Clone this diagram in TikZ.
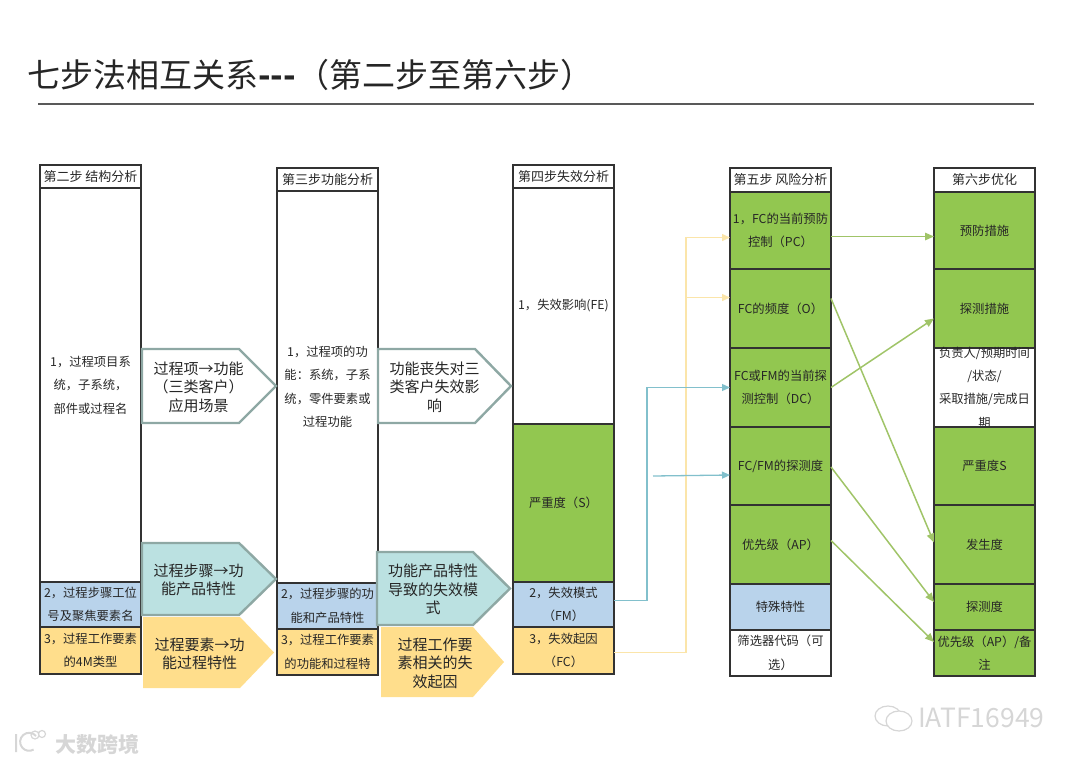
\documentclass[tikz,border=0pt]{standalone}
\usepackage{fontspec}
\setmainfont{Noto Sans CJK SC}
\usetikzlibrary{arrows.meta, positioning}
\definecolor{cGreen}{RGB}{146,199,80}
\definecolor{cBlue}{RGB}{185,211,235}
\definecolor{cYellow}{RGB}{255,222,140}
\definecolor{cTeal}{RGB}{187,225,225}
\definecolor{cEdge}{RGB}{142,168,164}
\definecolor{cLineGreen}{RGB}{160,196,104}
\definecolor{cLineTeal}{RGB}{130,192,204}
\definecolor{cLineYellow}{RGB}{251,229,170}
\definecolor{cBorder}{RGB}{50,50,50}
\definecolor{cMark}{RGB}{214,214,214}
\tikzset{
	cell/.style   ={rectangle, draw=cBorder, line width=1.3pt, minimum width=101pt, inner sep=0pt, outer sep=0pt, align=center, text=black!85, font=\fontsize{12.3}{23.4}\selectfont},
	head/.style   ={cell, minimum height=23pt, anchor=north west, font=\fontsize{13}{14}\selectfont},
	gcell/.style  ={cell, fill=cGreen},
	bcell/.style  ={cell, fill=cBlue},
	ycell/.style  ={cell, fill=cYellow},
	pentw/.style  ={draw=cEdge, line width=2.4pt, fill=white, line join=miter},
	pentt/.style  ={draw=cEdge, line width=2.4pt, fill=cTeal, line join=miter},
	penty/.style  ={draw=none, fill=cYellow},
	penttext/.style={align=center, inner sep=0pt, text=black!85, font=\fontsize{15}{18.4}\selectfont},
	lnkgreen/.style ={-{Triangle[length=9pt, width=7.5pt]}, draw=cLineGreen, line width=1.5pt},
	lnkteal/.style  ={-{Triangle[length=8pt, width=7pt]}, draw=cLineTeal, line width=1.3pt},
	lnkyellow/.style={-{Triangle[length=8pt, width=7pt]}, draw=cLineYellow, line width=1.5pt},
	wmark/.style={text=cMark, inner sep=0pt},
}
\begin{document}
\begin{tikzpicture}[x=1pt, y=-1pt]
	\useasboundingbox (0,0) rectangle (1080,764);
	% title
	\node[anchor=west, inner sep=0pt, text=black!85, font=\fontsize{33}{36}\selectfont] (title) at (27,75) {七步法相互关系\textbf{-\kern0pt-\kern0pt-}（第二步至第六步）};
	\coordinate (ruleL) at (38,104);
	\coordinate (ruleR) at (1034,104);
	\draw[black!65, line width=1.6pt] (ruleL) -- (ruleR);

	% second step
	\node[head] (hStruct) at (40,165) {第二步 结构分析};
	\node[cell, minimum height=394pt, below=0pt of hStruct] (sItem) {1，过程项目系\\统，子系统，\\部件或过程名};
	\node[bcell, minimum height=45pt, below=0pt of sItem] (sStep) {2，过程步骤工位\\号及聚焦要素名};
	\node[ycell, minimum height=47pt, below=0pt of sStep] (sElem) {3，过程工作要素\\的4M类型};

	% third step
	\node[head] (hFunc) at (277,168) {第三步功能分析};
	\node[cell, minimum height=392pt, below=0pt of hFunc] (fItem) {1，过程项的功\\能：系统，子系\\统，零件要素或\\过程功能};
	\node[bcell, minimum height=46pt, below=0pt of fItem] (fStep) {2，过程步骤的功\\能和产品特性};
	\node[ycell, minimum height=46pt, below=0pt of fStep] (fElem) {3，过程工作要素\\的功能和过程特};

	% fourth step
	\node[head] (hFail) at (513,165) {第四步失效分析};
	\node[cell, minimum height=236pt, below=0pt of hFail] (fe) {1，失效影响(FE)};
	\node[gcell, minimum height=158pt, below=0pt of fe] (sev) {严重度（S）};
	\node[bcell, minimum height=45pt, below=0pt of sev] (fm) {2，失效模式\\（FM）};
	\node[ycell, minimum height=47pt, below=0pt of fm] (fc) {3，失效起因\\（FC）};

	% fifth step
	\node[head, minimum height=24pt] (hRisk) at (730,168) {第五步 风险分析};
	\node[gcell, minimum height=77pt, below=0pt of hRisk] (pc) {1，FC的当前预防\\控制（PC）};
	\node[gcell, minimum height=79pt, below=0pt of pc] (occ) {FC的频度（O）};
	\node[gcell, minimum height=79pt, below=0pt of occ] (dc) {FC或FM的当前探\\测控制（DC）};
	\node[gcell, minimum height=78pt, below=0pt of dc] (det) {FC/FM的探测度};
	\node[gcell, minimum height=79pt, below=0pt of det] (ap) {优先级（AP）};
	\node[bcell, minimum height=46pt, below=0pt of ap] (spec) {特殊特性};
	\node[cell, minimum height=46pt, below=0pt of spec] (filt) {筛选器代码（可\\选）};

	% sixth step
	\node[head, minimum height=24pt] (hOpt) at (934,168) {第六步优化};
	\node[gcell, minimum height=77pt, below=0pt of hOpt] (prev) {预防措施};
	\node[gcell, minimum height=79pt, below=0pt of prev] (dact) {探测措施};
	\node[cell, minimum height=79pt, below=0pt of dact] (plan) {};
	\node[align=center, inner sep=0pt, text=black!85, font=\fontsize{12.3}{23.4}\selectfont, yshift=-3pt] (planText) at (plan) {\smash{\parbox{101pt}{\centering 负责人/预期时间\\/状态/\\采取措施/完成日\\期}}};
	\node[gcell, minimum height=78pt, below=0pt of plan] (sevS) {严重度S};
	\node[gcell, minimum height=79pt, below=0pt of sevS] (occS) {发生度};
	\node[gcell, minimum height=46pt, below=0pt of occS] (detS) {探测度};
	\node[gcell, minimum height=46pt, below=0pt of detS] (note) {优先级（AP）/备\\注};

	% pentagons between the steps
	\foreach \nm/\xa/\xb/\xc/\ya/\yb/\kind/\txt in {
		pItem/142/239/276/349/423/pentw/{过程项→功能\\（三类客户）\\应用场景},
		pLoss/378/475/511/349/423/pentw/{功能丧失对三\\类客户失效影\\响},
		pStep/142/239/276/543/615/pentt/{过程步骤→功\\能产品特性},
		pElem/143/240/274/617/688/penty/{过程要素→功\\能过程特性},
		pMode/377/473/510/552/625/pentt/{功能产品特性\\导致的失效模\\式},
		pCause/381/473/504/627/697/penty/{过程工作要\\素相关的失\\效起因}} {
		\path[\kind] (\xa,\ya) -- (\xb,\ya) -- (\xc,{(\ya+\yb)/2}) -- (\xb,\yb) -- (\xa,\yb) -- cycle;
		\node[penttext] (\nm) at ({(\xa+\xb)/2+8},{(\ya+\yb)/2+1}) {\txt};
	}

	% connectors
	\coordinate (busYellow) at (686,300);
	\coordinate (busTeal) at (647,500);
	\coordinate (stubTeal) at (653,476);
	\draw[lnkyellow] ([yshift=-2pt]fc.east) -| (busYellow) |- ([yshift=-7pt]pc.west);
	\draw[lnkyellow] (busYellow) |- ([yshift=11pt]occ.west);
	\draw[lnkteal] ([yshift=4pt]fm.east) -| (busTeal) |- (dc.west);
	\draw[lnkteal] (stubTeal) -- ([yshift=-9pt]det.west);
	\draw[lnkgreen] ([yshift=-6pt]pc.east) -- ([yshift=-6pt]prev.west);
	\draw[lnkgreen] ([yshift=10pt]occ.east) -- ([yshift=2pt]occS.west);
	\draw[lnkgreen] (dc.east) -- ([yshift=-10pt]dact.west);
	\draw[lnkgreen] ([yshift=-1pt]det.east) -- ([yshift=5pt]detS.west);
	\draw[lnkgreen] ([yshift=4pt]ap.east) -- ([yshift=11pt]note.west);

	% watermarks
	\node[wmark, anchor=west, font=\fontsize{21}{24}\selectfont\bfseries] (markCn) at (55,744) {大数跨境};
	\node[wmark, anchor=west, font=\fontsize{26.5}{28}\selectfont] (markEn) at (918,718) {IATF16949};
	\draw[cMark, line width=2pt] (16,734) -- (16,752) (36,736) arc[start angle=40, end angle=300, radius=9pt];
	\draw[cMark, line width=1.2pt] (35,735) circle[radius=4pt] (42,734) circle[radius=3.5pt];
	\draw[cMark, line width=1.2pt, fill=white] (888,716) ellipse[x radius=13pt, y radius=10pt];
	\draw[cMark, line width=1.2pt, fill=white] (899,721) ellipse[x radius=13pt, y radius=10pt];
\end{tikzpicture}
\end{document}
